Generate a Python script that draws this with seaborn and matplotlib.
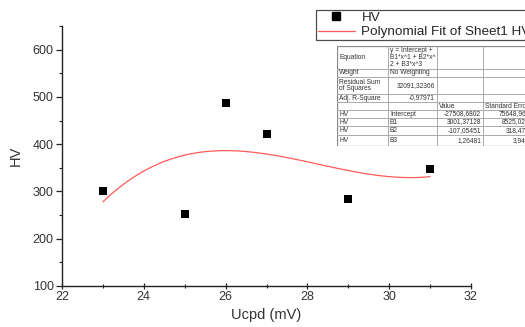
import numpy as np
import pandas as pd
import matplotlib
matplotlib.use("Agg")
import matplotlib.pyplot as plt
from matplotlib.lines import Line2D
from matplotlib.ticker import MultipleLocator
import seaborn as sns

# ---- data ----
ucpd = [23, 25, 26, 27, 29, 31]
hv = [301, 253, 488, 422, 284, 348]

x_ticks = [22, 24, 26, 28, 30, 32]
y_ticks = [100, 200, 300, 400, 500, 600]

legend_labels = ["HV", "Polynomial Fit of Sheet1 HV"]

tbl_col1 = ["Equation", "Weight", "Residual Sum\nof Squares", "Adj. R-Square", "", "HV", "HV", "HV", "HV"]
tbl_col2 = ["y = Intercept +\nB1*x^1 + B2*x^\n2 + B3*x^3", "No Weighting", "32091,32366", "-0,97971", "",
            "Intercept", "B1", "B2", "B3"]
tbl_col3 = ["", "", "", "", "Value", "-27508,6802", "3001,37128", "-107,05451", "1,26481"]
tbl_col4 = ["", "", "", "", "Standard Error", "75648,96531", "8525,02548", "318,47937", "3,94398"]

df = pd.DataFrame({"Ucpd": ucpd, "HV": hv})

sns.set_style("ticks")
plt.rcParams["font.family"] = ["Liberation Sans", "DejaVu Sans"]

fig = plt.figure(figsize=(5.25, 3.27), dpi=100)
W, H = 525.0, 327.0
ax = fig.add_axes([62 / W, 41 / H, 409 / W, 260 / H])

red = "#ff5a5a"
sns.regplot(data=df, x="Ucpd", y="HV", order=3, scatter=False, ci=None, truncate=True,
            line_kws=dict(color=red, lw=0.9), ax=ax)
sns.scatterplot(data=df, x="Ucpd", y="HV", marker="s", color="black", s=32,
                linewidth=0, ax=ax, zorder=3, legend=False)

ax.set_xlim(22, 32)
ax.set_ylim(100, 650)
ax.set_xticks(x_ticks)
ax.set_yticks(y_ticks)
ax.xaxis.set_minor_locator(MultipleLocator(1))
ax.yaxis.set_minor_locator(MultipleLocator(50))
for s in ["top", "right"]:
    ax.spines[s].set_visible(False)
for s in ["left", "bottom"]:
    ax.spines[s].set_color("#222222")
    ax.spines[s].set_linewidth(1.0)
ax.tick_params(axis="x", which="major", direction="inout", length=5, width=0.9, colors="#222222",
               labelsize=9, labelcolor="#333333", pad=1)
ax.tick_params(axis="x", which="minor", direction="inout", length=3, width=0.8, colors="#222222")
ax.tick_params(axis="y", which="major", direction="out", length=4, width=0.9, colors="#222222",
               labelsize=9, labelcolor="#333333", pad=2)
ax.tick_params(axis="y", which="minor", direction="out", length=2, width=0.8, colors="#222222")
ax.set_xlabel("Ucpd (mV)", fontsize=10.5, color="#333333", labelpad=4)
ax.set_ylabel("HV", fontsize=10.5, color="#333333", labelpad=7)

handles = [Line2D([], [], marker="s", color="black", linestyle="none", markersize=5.5),
           Line2D([], [], color=red, lw=0.9)]
leg = ax.legend(handles, legend_labels, loc="upper left",
                bbox_to_anchor=(316 / W, 1 - 10 / H), bbox_transform=fig.transFigure,
                frameon=True, fancybox=False, edgecolor="#222222", fontsize=9.7,
                handlelength=2.8, borderpad=0.12, labelspacing=0.15, handletextpad=0.45,
                borderaxespad=0)
leg.get_frame().set_linewidth(0.9)

# ---- fit-results table (layout in pixel units) ----
tx0, tx_end = 337.0, 560.0
ty0, ty_end = 46.0, 146.0
tax = fig.add_axes([tx0 / W, 1 - ty_end / H, (tx_end - tx0) / W, (ty_end - ty0) / H])
tax.set_xlim(tx0, tx_end)
tax.set_ylim(ty_end, ty0)
tax.axis("off")
tax.add_patch(plt.Rectangle((tx0, ty0), tx_end - tx0, ty_end - ty0, facecolor="white",
                            edgecolor="#888888", lw=0.9, zorder=1))
col_edges = [337, 388, 437, 483, 560]
row_edges = [46, 69, 77, 94, 102, 110, 118, 126, 135, 146]
for xe in col_edges[1:-1]:
    tax.plot([xe, xe], [ty0, ty_end], color="#aaaaaa", lw=0.7, zorder=2)
for ye in row_edges[1:-1]:
    tax.plot([tx0, tx_end], [ye, ye], color="#aaaaaa", lw=0.7, zorder=2)

fs = 4.8
tc = "#333333"
val_right4 = 537
for i in range(len(tbl_col1)):
    yc = (row_edges[i] + row_edges[i + 1]) / 2
    if tbl_col1[i]:
        tax.text(col_edges[0] + 2, yc, tbl_col1[i], fontsize=fs, va="center", ha="left",
                 color=tc, linespacing=0.95)
    if tbl_col2[i]:
        right = tbl_col2[i][0].isdigit() or tbl_col2[i].startswith("-")
        if right:
            tax.text(col_edges[2] - 2, yc, tbl_col2[i], fontsize=fs, va="center", ha="right", color=tc)
        else:
            tax.text(col_edges[1] + 2, yc, tbl_col2[i], fontsize=fs, va="center", ha="left",
                     color=tc, linespacing=0.95)
    if tbl_col3[i]:
        if tbl_col3[i] == "Value":
            tax.text(col_edges[2] + 2, yc, tbl_col3[i], fontsize=fs, va="center", ha="left", color=tc)
        else:
            tax.text(col_edges[3] - 2, yc, tbl_col3[i], fontsize=fs, va="center", ha="right", color=tc)
    if tbl_col4[i]:
        if tbl_col4[i] == "Standard Error":
            tax.text(col_edges[3] + 2, yc, tbl_col4[i], fontsize=fs, va="center", ha="left", color=tc)
        else:
            tax.text(val_right4, yc, tbl_col4[i], fontsize=fs, va="center", ha="right", color=tc)

fig.savefig("out.png", dpi=100)
